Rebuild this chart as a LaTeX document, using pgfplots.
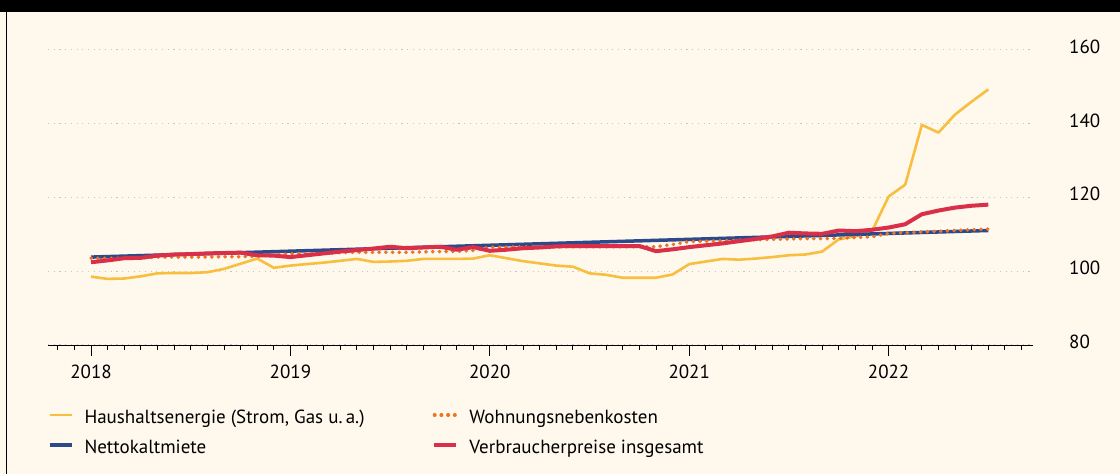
\documentclass[border=0pt]{standalone}
\usepackage{fontspec}
\setmainfont{PT Sans}
\usepackage{pgfplots}
\pgfplotsset{compat=1.18}
\definecolor{bg}{HTML}{FEF8ED}
\definecolor{cyellow}{HTML}{F8BE3E}
\definecolor{corange}{HTML}{EB7526}
\definecolor{cblue}{HTML}{2C4A8B}
\definecolor{cred}{HTML}{D92F48}
\definecolor{cgrid}{HTML}{C9C6C0}
\begin{document}
\fontsize{19}{23}\selectfont
\begin{tikzpicture}[x=1pt,y=1pt]
\useasboundingbox (0,0) rectangle (1120,474);
\fill[bg] (0,0) rectangle (1120,474);
\fill[black] (0,462) rectangle (1120,474);
\draw[black, line width=1.2pt] (6.5,0) -- (6.5,462);
\begin{axis}[
  at={(48pt,129pt)}, anchor=south west, scale only axis,
  width=985pt, height=295.5pt,
  xmin=-2.59, xmax=56.69, ymin=80, ymax=160,
  axis x line*=bottom, axis y line*=right,
  y axis line style={draw=none},
  x axis line style={black, line width=0.9pt, -},
  xtick={0,12,24,36,48}, xticklabels={2018,2019,2020,2021,2022},
  minor xtick={-2,-1,...,56},
  ytick={80,100,120,140,160},
  ymajorgrids, major grid style={cgrid, line width=1.1pt, dash pattern=on 1.1pt off 4.6pt},
  tick align=outside,
  major tick length=11pt, minor tick length=5pt,
  xtick style={black, line width=0.9pt},
  ytick style={draw=none},
  yticklabel pos=right,
  tick label style={font=\fontsize{19}{23}\selectfont, inner sep=0pt},
  xticklabel style={yshift=-9pt},
  yticklabel style={anchor=west, xshift=25pt, yshift=3pt},
  /pgf/number format/assume math mode=true,
  legend columns=2, transpose legend,
  legend cell align=left,
  legend image code/.code={\draw[#1] (0pt,3.5pt) -- (22pt,3.5pt);},
  legend style={at={(0,0)}, anchor=north west, yshift=-64pt,
    draw=none, fill=none, inner sep=0pt, outer sep=0pt,
    font=\fontsize{19}{23}\selectfont,
    row sep=11pt,
    nodes={inner sep=0pt, text height=14pt, text depth=5pt},
    /tikz/every odd column/.append style={column sep=11pt},
    /tikz/every even column/.append style={column sep=0pt}},
]
% Haushaltsenergie
\addplot[cyellow, line width=2.6pt, line join=round] coordinates {
(0,98.5)(1,97.9)(2,98.0)(3,98.6)(4,99.4)(5,99.5)(6,99.5)(7,99.7)(8,100.6)(9,102.0)(10,103.4)(11,100.9)
(12,101.5)(13,101.9)(14,102.3)(15,102.8)(16,103.3)(17,102.5)(18,102.6)(19,102.8)(20,103.3)(21,103.3)(22,103.3)(23,103.4)
(24,104.3)(25,103.5)(26,102.7)(27,102.1)(28,101.5)(29,101.2)(30,99.4)(31,99.0)(32,98.2)(33,98.2)(34,98.2)(35,99.1)
(36,101.9)(37,102.6)(38,103.3)(39,103.1)(40,103.4)(41,103.8)(42,104.3)(43,104.5)(44,105.3)(45,108.6)(46,109.4)(47,110.8)
(48,120.2)(49,123.4)(50,139.6)(51,137.5)(52,142.4)(53,145.9)(54,149.2)};
\addlegendentry{\makebox[348pt][l]{Haushaltsenergie (Strom, Gas u.\,a.)}}
% Nettokaltmiete
\addplot[cblue, line width=3.5pt] coordinates {
(0,103.8)(3,104.2)(6,104.6)(9,105.0)(12,105.4)(15,105.8)(18,106.2)(21,106.6)(24,107.0)(27,107.4)
(30,107.8)(33,108.2)(36,108.6)(39,109.0)(42,109.4)(45,109.8)(48,110.2)(51,110.6)(54,111.0)};
\addlegendentry{Nettokaltmiete}
% Wohnungsnebenkosten
\addplot[corange, line width=3.6pt, line cap=round, dash pattern=on 0.4pt off 6.3pt] coordinates {
(0,103.5)(1,103.5)(2,103.5)(3,103.6)(4,103.8)(5,103.8)(6,103.8)(7,103.8)(8,103.9)(9,103.9)(10,104.0)(11,104.4)
(12,104.7)(13,104.7)(14,104.8)(15,105.0)(16,105.1)(17,105.1)(18,105.1)(19,105.1)(20,105.2)(21,105.3)(22,105.3)(23,105.6)
(24,106.5)(25,106.5)(26,106.6)(27,106.6)(28,106.6)(29,106.6)(30,106.6)(31,106.6)(32,106.6)(33,106.6)(34,106.6)(35,107.2)
(36,108.0)(37,108.1)(38,108.2)(39,108.4)(40,108.5)(41,108.6)(42,108.7)(43,108.8)(44,108.8)(45,108.9)(46,109.1)(47,109.3)
(48,110.2)(49,110.4)(50,110.6)(51,110.8)(52,111.0)(53,111.2)(54,111.4)};
\addlegendentry{Wohnungsnebenkosten}
% Verbraucherpreise insgesamt
\addplot[cred, line width=4pt, line join=round] coordinates {
(0,102.4)(1,102.9)(2,103.5)(3,103.6)(4,104.2)(5,104.5)(6,104.6)(7,104.8)(8,104.9)(9,105.0)(10,104.3)(11,104.2)
(12,103.8)(13,104.3)(14,104.8)(15,105.3)(16,105.7)(17,106.1)(18,106.6)(19,106.2)(20,106.4)(21,106.6)(22,105.8)(23,106.5)
(24,105.5)(25,105.8)(26,106.2)(27,106.4)(28,106.7)(29,106.8)(30,106.8)(31,106.8)(32,106.8)(33,106.8)(34,105.4)(35,105.9)
(36,106.5)(37,107.0)(38,107.5)(39,108.1)(40,108.7)(41,109.4)(42,110.4)(43,110.2)(44,110.1)(45,111.0)(46,110.8)(47,111.2)
(48,111.8)(49,112.7)(50,115.4)(51,116.4)(52,117.2)(53,117.7)(54,118.0)};
\addlegendentry{Verbraucherpreise insgesamt}
\end{axis}
\end{tikzpicture}
\end{document}
